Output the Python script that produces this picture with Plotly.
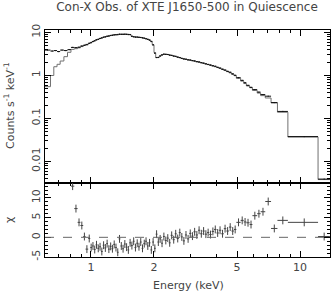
import plotly.graph_objects as go
from plotly.subplots import make_subplots

# Energy bin edges (keV)
edges = [
    0.600, 0.640, 0.664, 0.688, 0.712, 0.742, 0.772, 0.802, 0.832, 0.863, 0.890, 0.918, 0.942, 0.970, 0.992,
    1.012, 1.032, 1.052, 1.073, 1.094, 1.116, 1.138, 1.160, 1.183, 1.206, 1.230, 1.254, 1.279, 1.304, 1.330,
    1.356, 1.383, 1.410, 1.438, 1.466, 1.495, 1.524, 1.554, 1.585, 1.616, 1.648, 1.680, 1.713, 1.747, 1.781,
    1.816, 1.852, 1.888, 1.925, 1.963, 2.002,
    2.040, 2.080, 2.120, 2.165, 2.210, 2.255, 2.305, 2.355, 2.405, 2.460, 2.515, 2.570, 2.630, 2.690, 2.750,
    2.815, 2.880, 2.950, 3.020, 3.095, 3.170, 3.250, 3.330, 3.415, 3.500, 3.590, 3.680, 3.780, 3.880, 3.985,
    4.090, 4.200, 4.320, 4.440, 4.570, 4.700, 4.830,
    4.960, 5.200, 5.380, 5.540, 5.740, 5.920, 6.240, 6.480, 6.820, 7.270, 7.800, 8.750, 12.20, 13.90,
]

# Model (counts s^-1 keV^-1) per bin
model = [
    0.55, 1.0, 1.6, 1.82, 2.17, 2.74, 3.46, 4.05, 4.2, 4.4, 4.7, 5.0, 5.3, 5.6,
    5.9, 6.2, 6.5, 6.8, 7.0, 7.3, 7.6, 7.8, 8.0, 8.2, 8.4, 8.6, 8.7, 8.85, 8.95, 9.05, 9.1, 9.15,
    9.15, 9.15, 9.15, 9.1, 9.0, 8.2, 8.0, 7.9, 7.85, 7.8, 7.7, 7.6, 7.4, 7.2, 7.0, 6.7, 6.3, 5.2,
    3.4, 2.6, 2.65, 2.85, 3.05, 3.12, 3.12, 3.08, 3.0, 2.92, 2.84, 2.76, 2.68, 2.58, 2.50, 2.44,
    2.38, 2.32, 2.27, 2.21, 2.15, 2.09, 2.03, 1.97, 1.91, 1.85, 1.79, 1.73, 1.66, 1.60, 1.53, 1.46,
    1.39, 1.31, 1.23, 1.15, 1.07,
    0.99, 0.86, 0.74, 0.65, 0.57, 0.52, 0.45, 0.39, 0.34, 0.30, 0.23, 0.14, 0.037, 0.0038,
]

# Observed counts per bin
counts = [
    3.9, 3.7, 3.8, 3.6, 3.9, 3.8, 4.0, 4.5, 4.45, 4.55, 4.85, 5.05, 5.2, 5.6,
    5.8, 6.15, 6.4, 6.75, 6.9, 7.25, 7.45, 7.75, 7.9, 8.15, 8.25, 8.5, 8.6, 8.8, 8.85, 8.9, 9.1, 9.05,
    9.05, 9.1, 9.05, 8.95, 8.95, 8.15, 7.95, 7.8, 7.8, 7.7, 7.65, 7.5, 7.35, 7.15, 6.9, 6.65, 6.15, 5.15,
    3.3, 2.62, 2.62, 2.84, 3.0, 3.13, 3.1, 3.08, 2.97, 2.94, 2.83, 2.79, 2.67, 2.62, 2.5, 2.42,
    2.39, 2.31, 2.29, 2.22, 2.18, 2.1, 2.07, 1.99, 1.94, 1.87, 1.81, 1.75, 1.69, 1.64, 1.55, 1.49,
    1.4, 1.34, 1.25, 1.19, 1.09,
    1.01, 0.89, 0.77, 0.68, 0.59, 0.53, 0.47, 0.41, 0.36, 0.33, 0.235, 0.146, 0.038, 0.0039,
]

# Residuals (chi) per bin
chi = [
    40, 33, 28, 25, 22, 19, 16, 13.0, 7.3, 3.8, 3.0, 0.2, -3.0, -0.3,
    -2.6, -2.2, -3.1, -1.9, -2.8, -2.4, -3.6, -2.0, -2.7, -1.6, -3.0, -2.3, -2.9, -1.8, -2.6, -3.8,
    -0.4, -2.2, -2.9, -1.7, -2.5, -3.2, -1.4, -2.1, -1.0, -2.6, -1.5, -2.4, -1.2, -2.8, -1.6, -1.0,
    -2.2, -1.4, -3.2, -1.2,
    -2.8, 0.8, -1.2, -0.4, -1.5, 0.2, -0.8, -0.2, -1.4, 0.5, -0.6, 0.9, -0.3, 1.2, 0.1, -0.9,
    0.6, -0.4, 1.0, 0.3, 1.4, 0.6, 1.8, 0.9, 1.6, 0.8, 1.2, 0.7, 1.5, 2.0, 1.1, 1.8, 0.9, 2.2,
    1.6, 2.6, 1.6,
    2.0, 3.8, 4.3, 3.9, 3.7, 3.25, 5.5, 6.0, 6.5, 9.1, 2.25, 4.3, 3.8, 0.2,
]

x_ticks = [1, 2, 5, 10]
x_ticktext = ["1", "2", "5", "10"]
x_minor = [0.6, 0.7, 0.8, 0.9, 3, 4, 6, 7, 8, 9, 20]
yu_ticks = [0.01, 0.1, 1, 10]
yu_ticktext = ["0.01", "0.1", "1", "10"]
yu_minor = [m * d for d in (0.001, 0.01, 0.1, 1, 10) for m in range(2, 10)]
yl_ticks = [-5, 0, 5, 10]
yl_ticktext = ["-5", "0", "5", "10"]
yl_minor = list(range(-5, 15))

centers = [(a + b) / 2 for a, b in zip(edges[:-1], edges[1:])]
halfw = [(b - a) / 2 for a, b in zip(edges[:-1], edges[1:])]

FONT = "DejaVu Sans"
TXT = "#444444"

fig = make_subplots(rows=2, cols=1, shared_xaxes=True, vertical_spacing=0,
                    row_heights=[0.674, 0.326])

# model histogram
fig.add_trace(go.Scatter(x=edges, y=model + [model[-1]], mode="lines", line_shape="hv",
                         line=dict(color="#707070", width=1), showlegend=False, hoverinfo="skip"),
              row=1, col=1)
# data
fig.add_trace(go.Scatter(x=centers, y=counts, mode="markers",
                         marker=dict(size=1, color="rgba(0,0,0,0)"),
                         error_x=dict(type="data", array=halfw, thickness=1, width=0, color="#111111"),
                         error_y=dict(type="percent", value=3, thickness=1, width=0, color="#111111"),
                         showlegend=False, hoverinfo="skip"), row=1, col=1)
# residuals
fig.add_trace(go.Scatter(x=centers, y=chi, mode="markers",
                         marker=dict(size=1, color="rgba(0,0,0,0)"),
                         error_x=dict(type="data", array=halfw, thickness=1, width=0, color="#444444"),
                         error_y=dict(type="constant", value=1, thickness=1, width=0, color="#444444"),
                         showlegend=False, hoverinfo="skip"), row=2, col=1)

fig.add_shape(type="line", xref="x2 domain", yref="y2", x0=0, x1=1, y0=0, y1=0,
              line=dict(color="#666666", width=1, dash="dash"))

axis_common = dict(showline=True, linecolor="black", linewidth=1, mirror="allticks",
                   ticks="inside", tickcolor="black", tickwidth=1, showgrid=False, zeroline=False,
                   automargin=False, tickfont=dict(family=FONT, size=11, color=TXT))

xr = [-0.220, 1.1435]
fig.update_xaxes(type="log", range=xr, tickmode="array", tickvals=x_ticks, ticktext=x_ticktext,
                 ticklen=6, minor=dict(tickmode="array", tickvals=x_minor, ticks="inside", ticklen=3,
                                       tickcolor="black"), **axis_common)
fig.update_xaxes(showticklabels=False, row=1, col=1)
fig.update_yaxes(type="log", range=[-2.5, 1.058], tickmode="array", tickvals=yu_ticks,
                 ticktext=yu_ticktext, tickangle=-90, ticklen=6,
                 minor=dict(tickmode="array", tickvals=yu_minor, ticks="inside", ticklen=3, tickcolor="black"),
                 row=1, col=1, **axis_common)
fig.update_yaxes(range=[-5, 13.8], tickmode="array", tickvals=yl_ticks, ticktext=yl_ticktext,
                 tickangle=-90, ticklen=6,
                 minor=dict(tickmode="array", tickvals=yl_minor, ticks="inside", ticklen=3, tickcolor="black"),
                 row=2, col=1, **axis_common)

fig.update_layout(
    width=332, height=292, margin=dict(l=45, r=2, t=30, b=35),
    paper_bgcolor="white", plot_bgcolor="white", hovermode=False,
    title=dict(text="Con-X Obs. of XTE J1650-500 in Quiescence", x=187 / 332, xanchor="center",
               y=1 - 7 / 292, yanchor="middle", xref="container", yref="container",
               font=dict(family=FONT, size=12, color=TXT)),
    annotations=[
        dict(text="Energy (keV)", xref="paper", yref="paper", x=(188 - 45) / 285, y=-(285 - 257) / 227,
             xanchor="center", yanchor="middle", showarrow=False, font=dict(family=FONT, size=11, color=TXT)),
        dict(text="Counts s<sup>-1</sup> keV<sup>-1</sup>", xref="paper", yref="paper",
             x=(9 - 45) / 285, y=(257 - 106) / 227, textangle=-90, xanchor="center", yanchor="middle",
             showarrow=False, font=dict(family=FONT, size=11, color=TXT)),
        dict(text="χ", xref="paper", yref="paper", x=(9 - 45) / 285, y=(257 - 220) / 227,
             textangle=-90, xanchor="center", yanchor="middle", showarrow=False,
             font=dict(family=FONT, size=11, color=TXT)),
    ],
)

fig.write_html("out.html", config={"displayModeBar": False},
               post_script="document.body.style.margin='0';")
